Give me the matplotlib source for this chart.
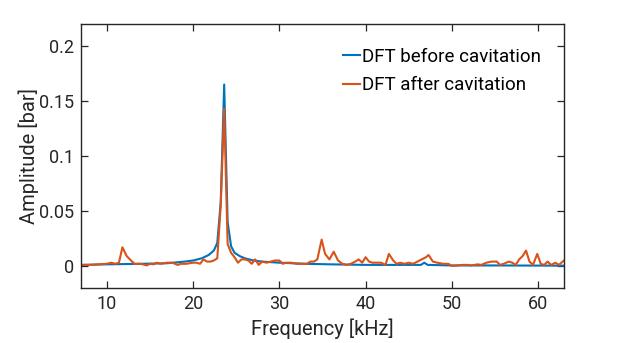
import matplotlib
matplotlib.use('Agg')  # Non-interactive backend

import matplotlib.pyplot as plt

plt.rcParams['font.family'] = ['Roboto', 'DejaVu Sans']

# DFT before cavitation (frequency in kHz, amplitude in bar)
freq_before = [7, 10, 14, 17, 19, 20, 21, 21.8, 22.4, 22.8, 23.2, 23.6, 24.0,
               24.4, 24.8, 25.4, 26, 27, 28, 30, 33, 36, 40, 46.4, 46.8, 47.2,
               50, 55, 63]
amp_before = [0.001, 0.0015, 0.002, 0.0025, 0.004, 0.005, 0.007, 0.010, 0.014,
              0.021, 0.058, 0.165, 0.040, 0.018, 0.012, 0.009, 0.007, 0.005,
              0.004, 0.003, 0.002, 0.0015, 0.001, 0.001, 0.003, 0.001, 0.0005,
              0.0005, 0.0003]

# DFT after cavitation
freq_after = [7, 8, 9, 10, 10.5, 11, 11.4, 11.8, 12.3, 12.8, 13.2, 13.8, 14.2,
              14.6, 15, 15.4, 15.8, 16.2, 17, 17.6, 18.2, 18.6, 19.2, 20, 20.4,
              20.8, 21.2, 21.6, 22, 22.4, 22.8, 23.2, 23.6, 24.0, 24.4, 24.8,
              25.2, 25.6, 26, 26.4, 26.8, 27.2, 27.6, 28, 28.5, 29, 29.5, 30,
              30.4, 30.8, 31.4, 32, 32.6, 33.2, 33.6, 34, 34.4, 34.9, 35.3,
              35.8, 36.3, 36.8, 37.3, 37.8, 38.3, 38.8, 39.2, 39.6, 40, 40.4,
              40.8, 41.3, 41.8, 42.3, 42.7, 43.2, 43.6, 44, 44.5, 45, 45.5, 46,
              46.5, 47, 47.3, 47.8, 48.3, 49, 49.6, 50, 50.6, 51.2, 51.8, 52.2,
              52.6, 53, 53.4, 54, 54.6, 55.2, 55.6, 56, 56.6, 57, 57.4, 57.8,
              58.2, 58.6, 59, 59.4, 59.9, 60.3, 60.7, 61.1, 61.5, 62, 62.4, 63]
amp_after = [0.001, 0.001, 0.0015, 0.002, 0.003, 0.002, 0.003, 0.017, 0.009,
             0.005, 0.002, 0.002, 0.0015, 0.0005, 0.002, 0.0015, 0.003, 0.002,
             0.003, 0.003, 0.001, 0.002, 0.002, 0.003, 0.003, 0.002, 0.006,
             0.004, 0.004, 0.005, 0.007, 0.055, 0.143, 0.020, 0.012, 0.008,
             0.003, 0.006, 0.006, 0.005, 0.002, 0.006, 0.001, 0.004, 0.003,
             0.004, 0.005, 0.005, 0.002, 0.003, 0.003, 0.002, 0.002, 0.002,
             0.004, 0.004, 0.006, 0.024, 0.011, 0.006, 0.013, 0.005, 0.002,
             0.001, 0.002, 0.004, 0.006, 0.003, 0.008, 0.004, 0.003, 0.003,
             0.003, 0.001, 0.011, 0.005, 0.002, 0.003, 0.002, 0.003, 0.002,
             0.004, 0.006, 0.008, 0.010, 0.004, 0.003, 0.002, 0.002, 0.000,
             0.0005, 0.001, 0.001, 0.0005, 0.001, 0.0015, 0.001, 0.003, 0.004,
             0.004, 0.001, 0.002, 0.004, 0.003, 0.001, 0.006, 0.009, 0.014,
             0.004, 0.001, 0.011, 0.002, 0.001, 0.004, 0.001, 0.003, 0.001,
             0.005]

x_ticks = [10, 20, 30, 40, 50, 60]
y_ticks = [0, 0.05, 0.1, 0.15, 0.2]
y_tick_labels = ['0', '0.05', '0.1', '0.15', '0.2']

DPI = 100
fig = plt.figure(figsize=(6.23, 3.43), dpi=DPI)
ax = fig.add_axes([81 / 623, 55 / 343, 483 / 623, 264 / 343])

ax.plot(freq_before, amp_before, color='#0072BD', lw=1.5,
        label='DFT before cavitation')
ax.plot(freq_after, amp_after, color='#D95319', lw=1.5,
        label='DFT after cavitation')

ax.set_xlim(7, 63)
ax.set_ylim(-0.02, 0.22)
ax.set_xticks(x_ticks)
ax.set_yticks(y_ticks)
ax.set_yticklabels(y_tick_labels)

dark = '#262626'
ax.tick_params(direction='in', top=True, right=True, length=5, width=0.9,
               colors=dark, labelsize=13, pad=5)
for spine in ax.spines.values():
    spine.set_color(dark)
    spine.set_linewidth(1.0)

ax.set_xlabel('Frequency [kHz]', fontsize=14.5, color=dark, labelpad=4)
ax.set_ylabel('Amplitude [bar]', fontsize=14.5, color=dark, labelpad=0)

ax.legend(loc='upper left', frameon=False, fontsize=13.5, handlelength=0.9,
          handletextpad=0.1, labelspacing=0.55, borderpad=0,
          borderaxespad=0, bbox_to_anchor=(0.542, 0.91))

fig.savefig('out.png', dpi=DPI)
